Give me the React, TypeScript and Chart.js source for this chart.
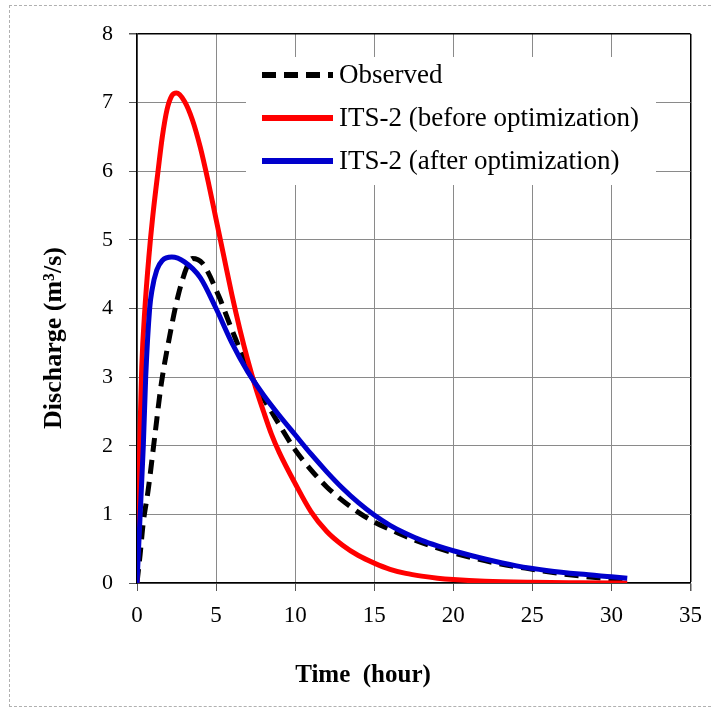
import React, { useEffect, useRef } from "react";
import { Chart, registerables } from "chart.js";

Chart.register(...registerables);

// Observed hydrograph
const obsTime = [0, 0.2, 0.39, 0.71, 1.12, 1.54, 2.06, 2.58, 3.2, 3.5, 4.14, 5.19, 6.0, 7.27, 8.94, 10, 11, 12, 13, 14, 15, 16, 17.5, 20, 22.5, 25, 27, 29, 31];
const obsQ = [0, 0.42, 0.87, 1.36, 2.13, 2.91, 3.59, 4.17, 4.63, 4.73, 4.66, 4.17, 3.69, 3.0, 2.33, 1.94, 1.65, 1.4, 1.2, 1.03, 0.89, 0.78, 0.63, 0.44, 0.3, 0.2, 0.13, 0.08, 0.05];

// ITS-2 before optimization
const beforeTime = [0, 0.1, 0.2, 0.3, 0.5, 0.75, 1.0, 1.33, 1.6, 1.9, 2.2, 2.5, 3.0, 3.5, 4.0, 4.5, 5.0, 5.5, 6.0, 6.5, 7.0, 7.5, 8.0, 8.5, 9.0, 10, 11, 12, 13, 14, 15, 16, 17, 18, 19, 20, 22, 25, 28, 31];
const beforeQ = [0, 1.2, 2.3, 3.15, 4.0, 4.75, 5.35, 6.0, 6.5, 6.9, 7.1, 7.14, 7.02, 6.75, 6.35, 5.85, 5.3, 4.75, 4.2, 3.7, 3.25, 2.85, 2.5, 2.17, 1.9, 1.45, 1.04, 0.75, 0.55, 0.4, 0.29, 0.2, 0.14, 0.1, 0.07, 0.05, 0.025, 0.01, 0.004, 0];

// ITS-2 after optimization
const afterTime = [0, 0.2, 0.4, 0.55, 0.8, 0.95, 1.25, 1.6, 2.2, 3.0, 4.0, 5.0, 6.0, 7.0, 8.0, 9.0, 10, 11, 12, 13, 14, 15, 16, 17, 18, 19, 20, 22, 24, 26, 28, 30, 31];
const afterQ = [0, 1.0, 2.0, 3.0, 4.0, 4.27, 4.56, 4.7, 4.75, 4.68, 4.45, 4.0, 3.5, 3.08, 2.74, 2.44, 2.16, 1.88, 1.62, 1.38, 1.17, 0.99, 0.84, 0.72, 0.62, 0.54, 0.47, 0.35, 0.25, 0.18, 0.13, 0.09, 0.07];

const seriesLabels = ["Observed", "ITS-2 (before optimization)", "ITS-2 (after optimization)"];
const xTitle = "Time  (hour)";
const yTitle = "Discharge (m\u00B3/s)";

const SERIF = "'Liberation Serif', 'Times New Roman', Times, serif";

const toPts = (t: number[], q: number[]) => t.map((x, i) => ({ x, y: q[i] }));

export default function App() {
  const ref = useRef<HTMLCanvasElement | null>(null);

  useEffect(() => {
    const canvas = ref.current;
    if (!canvas) return;

    const overlay = {
      id: "overlay",
      afterDraw(chart: any) {
        const ctx = chart.ctx;
        ctx.save();
        // legend box
        const lx0 = 246, ly0 = 57, lw = 410, lh = 128;
        ctx.fillStyle = "#ffffff";
        ctx.fillRect(lx0, ly0, lw, lh);
        const rows = [75, 118, 161];
        chart.data.datasets.forEach((ds: any, i: number) => {
          const y = rows[i];
          ctx.beginPath();
          ctx.strokeStyle = ds.borderColor;
          ctx.lineWidth = 6;
          ctx.setLineDash(ds.borderDash || []);
          ctx.moveTo(262, y);
          ctx.lineTo(333, y);
          ctx.stroke();
          ctx.setLineDash([]);
          ctx.fillStyle = "#000";
          ctx.font = `27px ${SERIF}`;
          ctx.textAlign = "left";
          ctx.textBaseline = "middle";
          ctx.fillText(ds.label, 339, y + 1);
        });
        // axis titles
        ctx.fillStyle = "#000";
        ctx.font = `bold 25px ${SERIF}`;
        ctx.textAlign = "center";
        ctx.textBaseline = "middle";
        ctx.fillText(xTitle, 363, 676);
        ctx.translate(54, 338);
        ctx.rotate(-Math.PI / 2);
        ctx.font = `bold 26px ${SERIF}`;
        ctx.fillText(yTitle, 0, 0);
        ctx.restore();
      },
    };

    const chart = new Chart(canvas, {
      type: "line",
      data: {
        datasets: [
          {
            label: seriesLabels[0],
            data: toPts(obsTime, obsQ),
            borderColor: "#000000",
            borderWidth: 5,
            borderDash: [14, 8],
            pointRadius: 0,
            cubicInterpolationMode: "monotone",
            order: 2,
          },
          {
            label: seriesLabels[1],
            data: toPts(beforeTime, beforeQ),
            borderColor: "#ff0000",
            borderWidth: 5,
            pointRadius: 0,
            cubicInterpolationMode: "monotone",
            order: 1,
          },
          {
            label: seriesLabels[2],
            data: toPts(afterTime, afterQ),
            borderColor: "#0000cc",
            borderWidth: 5,
            pointRadius: 0,
            cubicInterpolationMode: "monotone",
            order: 0,
          },
        ],
      },
      options: {
        animation: false,
        responsive: false,
        maintainAspectRatio: false,
        layout: { padding: { left: 0, top: 34, right: 16, bottom: 0 } },
        plugins: { legend: { display: false }, tooltip: { enabled: false } },
        scales: {
          x: {
            type: "linear",
            min: 0,
            max: 35,
            ticks: {
              stepSize: 5,
              color: "#000",
              padding: 11,
              font: { family: SERIF, size: 23 },
            },
            grid: {
              color: (c: any) => (c.tick && c.tick.value === 35 ? "#000" : "#8a8a8a"),
              lineWidth: (c: any) => (c.tick && c.tick.value === 35 ? 1.5 : 1),
              tickLength: 8,
              tickColor: "#555",
            },
            border: { display: true, color: "#000", width: 1.5 },
            afterFit: (s: any) => {
              s.height = 127;
            },
          },
          y: {
            type: "linear",
            min: 0,
            max: 8,
            ticks: {
              stepSize: 1,
              color: "#000",
              padding: 16,
              font: { family: SERIF, size: 22 },
            },
            grid: {
              color: (c: any) => (c.tick && c.tick.value === 8 ? "#000" : "#8a8a8a"),
              lineWidth: (c: any) => (c.tick && c.tick.value === 8 ? 1.5 : 1),
              tickLength: 8,
              tickColor: "#555",
            },
            border: { display: true, color: "#000", width: 1.5 },
            afterFit: (s: any) => {
              s.width = 137;
            },
          },
        },
      },
      plugins: [overlay],
    } as any);

    return () => chart.destroy();
  }, []);

  return (
    <div style={{ position: "fixed", left: 0, top: 0, width: 713, height: 710, background: "#fff" }}>
      <div
        style={{
          position: "absolute",
          left: 9,
          top: 5,
          width: 712,
          height: 702,
          border: "1px dashed #b0b0b0",
          boxSizing: "border-box",
        }}
      />
      <canvas
        ref={ref}
        width={713}
        height={710}
        style={{ position: "absolute", left: 0, top: 0, width: 713, height: 710 }}
      />
    </div>
  );
}
